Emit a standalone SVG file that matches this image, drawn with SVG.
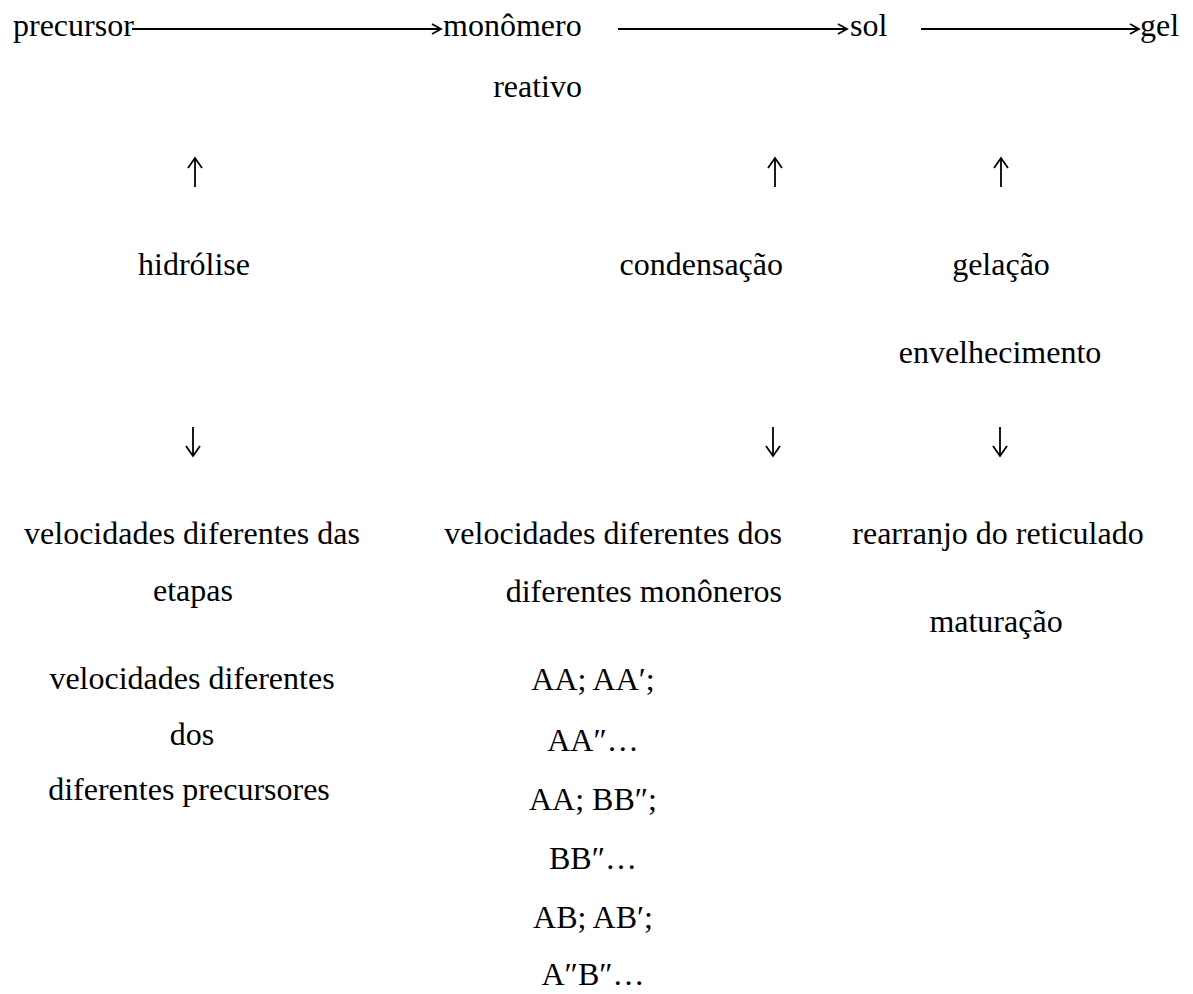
<svg xmlns="http://www.w3.org/2000/svg" width="1193" height="994" viewBox="0 0 1193 994">
<style>
text{font-family:"Liberation Serif","Times New Roman",serif;font-size:32px;fill:#000}
.c{text-anchor:middle}
.e{text-anchor:end}
.ln{stroke:#000;stroke-width:1.8;fill:none}
.hd{stroke:#000;stroke-width:1.8;fill:none;stroke-linejoin:miter}
</style>
<rect width="1193" height="994" fill="#fff"/>
<g id="connectors">
<line class="ln" x1="132" y1="29" x2="440" y2="29"/>
<path class="hd" d="M432 24 L441 29 L432 34"/>
<line class="ln" x1="618" y1="29" x2="846" y2="29"/>
<path class="hd" d="M838 24 L847 29 L838 34"/>
<line class="ln" x1="921" y1="29" x2="1138" y2="29"/>
<path class="hd" d="M1130 24 L1139 29 L1130 34"/>
<line class="ln" x1="195" y1="158" x2="195" y2="187"/>
<path class="hd" d="M188 168 L195 158 L202 168"/>
<line class="ln" x1="775" y1="158" x2="775" y2="187"/>
<path class="hd" d="M768 168 L775 158 L782 168"/>
<line class="ln" x1="1001" y1="158" x2="1001" y2="187"/>
<path class="hd" d="M994 168 L1001 158 L1008 168"/>
<line class="ln" x1="193" y1="427" x2="193" y2="456"/>
<path class="hd" d="M186 446 L193 456 L200 446"/>
<line class="ln" x1="773" y1="427" x2="773" y2="456"/>
<path class="hd" d="M766 446 L773 456 L780 446"/>
<line class="ln" x1="1000" y1="427" x2="1000" y2="456"/>
<path class="hd" d="M993 446 L1000 456 L1007 446"/>
</g>
<g id="precursor"><text x="13" y="36">precursor</text></g>
<g id="monomero"><text x="443" y="36">monômero</text><text class="e" x="582" y="97">reativo</text></g>
<g id="sol"><text x="850" y="36">sol</text></g>
<g id="gel"><text x="1140" y="36">gel</text></g>
<g id="hidrolise"><text class="c" x="194" y="275">hidrólise</text></g>
<g id="condensacao"><text class="e" x="783" y="275">condensação</text></g>
<g id="gelacao"><text class="c" x="1001" y="275">gelação</text><text class="c" x="1000" y="363">envelhecimento</text></g>
<g id="efeitos-hidrolise">
<text class="c" x="192" y="544">velocidades diferentes das</text>
<text class="c" x="193" y="601">etapas</text>
<text class="c" x="192" y="689">velocidades diferentes</text>
<text class="c" x="192" y="745">dos</text>
<text class="c" x="189" y="800">diferentes precursores</text>
</g>
<g id="efeitos-condensacao">
<text class="e" x="782" y="544">velocidades diferentes dos</text>
<text class="e" x="782" y="602">diferentes monôneros</text>
</g>
<g id="pares">
<text class="c" x="593" y="690">AA; AA′;</text>
<text class="c" x="593" y="751">AA″…</text>
<text class="c" x="593" y="810">AA; BB″;</text>
<text class="c" x="593" y="869">BB″…</text>
<text class="c" x="593" y="928">AB; AB′;</text>
<text class="c" x="593" y="985">A″B″…</text>
</g>
<g id="efeitos-gelacao">
<text class="c" x="998" y="544">rearranjo do reticulado</text>
<text class="c" x="996" y="632">maturação</text>
</g>
</svg>
